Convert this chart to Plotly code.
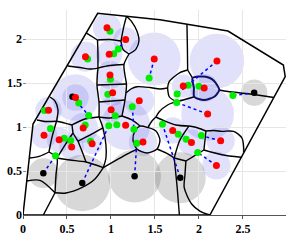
import plotly.graph_objects as go

# ---------------- data ----------------
red_x = [0.955, 1.167, 0.980, 0.710, 1.492, 2.205, 0.989, 1.019, 1.822, 2.060, 1.322, 0.597, 0.290,
         1.002, 2.099, 0.239, 0.411, 0.553, 0.684, 0.786, 1.167, 1.364, 1.702, 1.915, 2.247, 2.199]
red_y = [2.128, 1.994, 1.827, 1.799, 1.773, 1.750, 1.591, 1.390, 1.466, 1.443, 1.299, 1.335, 1.190,
         1.197, 1.148, 0.906, 0.855, 0.773, 0.989, 0.810, 1.020, 0.830, 0.960, 0.824, 0.843, 0.5625]
red_r = [0.16, 0.14, 0.15, 0.17, 0.30, 0.31, 0.16, 0.15, 0.13, 0.16, 0.17, 0.15, 0.15,
         0.14, 0.30, 0.15, 0.14, 0.14, 0.17, 0.12, 0.28, 0.16, 0.15, 0.15, 0.16, 0.16]
halo_idx = [11]
halo_r = [0.265]

green_x = [0.989, 1.083, 1.032, 0.735, 1.434, 0.994, 0.964, 1.242, 0.634, 0.747, 0.244, 1.049,
           1.878, 2.000, 1.752, 1.748, 2.386, 0.3125, 0.468, 0.542, 0.707, 0.769, 0.975, 1.066,
           1.261, 1.293, 0.369, 1.585, 1.765, 1.855, 2.028, 1.986]
green_y = [2.088, 1.886, 1.832, 1.773, 1.557, 1.543, 1.373, 1.231, 1.273, 1.131, 1.188, 1.128,
           1.474, 1.464, 1.375, 1.278, 1.358, 0.983, 0.873, 0.847, 1.023, 0.839, 1.014, 1.025,
           0.975, 0.816, 0.673, 1.032, 0.918, 0.861, 0.903, 0.710]

black_x = [0.5625, 2.628, 0.674, 1.269, 0.231, 1.7875]
black_y = [1.344, 1.390, 0.364, 0.441, 0.475, 0.424]
black_r = [0.0, 0.15, 0.32, 0.30, 0.17, 0.29]

# dotted links: (kind, index) -> (kind, index)
links = [(("r", 1), ("g", 1)), (("r", 4), ("g", 4)), (("r", 5), ("g", 14)),
         (("r", 14), ("g", 15)), (("b", 1), ("g", 16)), (("b", 0), ("g", 9)),
         (("g", 7), ("g", 24)), (("b", 2), ("g", 22)), (("b", 3), ("g", 25)),
         (("b", 4), ("g", 26)), (("b", 5), ("g", 27)), (("r", 24), ("g", 30)),
         (("r", 25), ("g", 31)), (("r", 15), ("g", 17)), (("r", 20), ("g", 23))]

poly_x = [0, 0.114, 0.849, 1.557, 2.330, 2.960, 2.981, 2.125, 0]
poly_y = [0, 1.034, 2.292, 2.218, 2.091, 1.705, 1.572, 0, 0]

cell_edges = [
    [(0.722, 2.068), (0.847, 1.989)],
    [(0.847, 1.989), (0.989, 1.994), (1.114, 1.977)],
    [(1.176, 2.258), (1.142, 2.125), (1.114, 1.977)],
    [(1.176, 2.258), (1.239, 2.193), (1.295, 2.091), (1.318, 1.977), (1.284, 1.886), (1.205, 1.830)],
    [(1.114, 1.977), (1.136, 1.886), (1.205, 1.830)],
    [(0.847, 1.989), (0.852, 1.841), (0.852, 1.670)],
    [(0.508, 1.693), (0.648, 1.676), (0.761, 1.659), (0.852, 1.670)],
    [(0.852, 1.670), (0.989, 1.699), (1.148, 1.710)],
    [(1.205, 1.830), (1.148, 1.710), (1.159, 1.591), (1.176, 1.489), (1.170, 1.386)],
    [(0.852, 1.670), (0.841, 1.477), (0.864, 1.284), (0.864, 1.114)],
    [(0.841, 1.477), (1.011, 1.483), (1.176, 1.489)],
    [(0.864, 1.284), (1.011, 1.295), (1.159, 1.307)],
    [(1.170, 1.386), (1.159, 1.307), (1.148, 1.239), (1.125, 1.125)],
    [(1.864, 2.168), (1.869, 1.898), (1.872, 1.648)],
    [(1.872, 1.648), (1.784, 1.619), (1.719, 1.572), (1.659, 1.511), (1.644, 1.443)],
    [(1.644, 1.443), (1.663, 1.344), (1.739, 1.288)],
    [(1.872, 1.648), (1.928, 1.557)],
    [(1.739, 1.288), (1.841, 1.313), (1.947, 1.344)],
    [(2.231, 1.420), (2.330, 1.403), (2.580, 1.375), (2.852, 1.335)],
    [(1.170, 1.386), (1.227, 1.432), (1.295, 1.458), (1.443, 1.449), (1.557, 1.432), (1.644, 1.443)],
    [(1.739, 1.288), (1.644, 1.250), (1.549, 1.174), (1.511, 1.114)],
    [(0.159, 1.080), (0.250, 1.063), (0.381, 1.065)],
    [(0.308, 1.341), (0.364, 1.295), (0.398, 1.193), (0.381, 1.065)],
    [(0.381, 1.065), (0.330, 0.886), (0.295, 0.716)],
    [(0.070, 0.648), (0.193, 0.670), (0.295, 0.716)],
    [(0.381, 1.065), (0.477, 1.045), (0.557, 1.023)],
    [(0.557, 1.023), (0.705, 1.091), (0.864, 1.114)],
    [(0.557, 1.023), (0.568, 0.932)],
    [(0.568, 0.932), (0.477, 0.795), (0.386, 0.648)],
    [(0.568, 0.932), (0.625, 0.841)],
    [(0.625, 0.841), (0.761, 0.909), (0.909, 0.989)],
    [(0.864, 1.114), (0.909, 0.989), (0.943, 0.795), (0.943, 0.648), (0.9125, 0.5375)],
    [(0.625, 0.841), (0.670, 0.727), (0.716, 0.602)],
    [(0.386, 0.648), (0.534, 0.625), (0.716, 0.602), (0.9125, 0.5375)],
    [(0.295, 0.716), (0.386, 0.648), (0.375, 0.455), (0.364, 0.253)],
    [(0.364, 0.253), (0.489, 0.250), (0.667, 0.310), (0.818, 0.409), (0.9125, 0.5375)],
    [(0.042, 0.386), (0.193, 0.394), (0.364, 0.253)],
    [(0.364, 0.253), (0.231, 0.0)],
    [(0.864, 1.114), (0.989, 1.102), (1.125, 1.125)],
    [(1.125, 1.125), (1.239, 1.080), (1.330, 1.011)],
    [(1.330, 1.011), (1.420, 0.994), (1.511, 0.955), (1.557, 0.852), (1.523, 0.750), (1.409, 0.705),
     (1.295, 0.750), (1.250, 0.852), (1.273, 0.955), (1.330, 1.011)],
    [(1.420, 0.994), (1.466, 1.068), (1.511, 1.114)],
    [(0.9125, 0.5375), (1.045, 0.614), (1.182, 0.693), (1.295, 0.750)],
    [(1.523, 0.750), (1.625, 0.705), (1.719, 0.648)],
    [(1.511, 1.114), (1.614, 1.068), (1.739, 1.023), (1.886, 1.011)],
    [(1.886, 1.011), (1.784, 0.852), (1.719, 0.648)],
    [(1.886, 1.011), (1.989, 0.989), (2.080, 0.955)],
    [(2.080, 0.955), (2.170, 0.960), (2.261, 0.951), (2.394, 0.951), (2.489, 0.875), (2.511, 0.716)],
    [(2.080, 0.955), (2.068, 0.841), (2.057, 0.739)],
    [(2.057, 0.739), (2.261, 0.685), (2.479, 0.656)],
    [(2.057, 0.739), (1.943, 0.670), (1.852, 0.614)],
    [(1.719, 0.648), (1.852, 0.614)],
    [(1.719, 0.648), (1.750, 0.341), (1.778, 0.0)],
    [(1.852, 0.614), (1.841, 0.455), (1.833, 0.310), (1.917, 0.125), (2.011, 0.045), (2.125, 0.0)],
]

highlight_cell = [(1.928, 1.557), (2.011, 1.574), (2.080, 1.572), (2.148, 1.545), (2.193, 1.497),
                  (2.231, 1.420), (2.205, 1.375), (2.174, 1.344), (2.060, 1.307), (1.947, 1.344),
                  (1.943, 1.443), (1.928, 1.557)]

x_ticks = [0, 0.5, 1, 1.5, 2, 2.5]
y_ticks = [0, 0.5, 1, 1.5, 2]

# ---------------- figure ----------------
fig = go.Figure()
shapes = []
for cx, cy, r in zip(black_x, black_y, black_r):
    if r > 0:
        shapes.append(dict(type="circle", xref="x", yref="y", x0=cx - r, x1=cx + r, y0=cy - r, y1=cy + r,
                           fillcolor="rgba(110,110,110,0.27)", line=dict(width=0), layer="below"))
for cx, cy, r in zip(red_x, red_y, red_r):
    shapes.append(dict(type="circle", xref="x", yref="y", x0=cx - r, x1=cx + r, y0=cy - r, y1=cy + r,
                       fillcolor="rgba(90,90,235,0.18)", line=dict(width=0), layer="below"))
for i, r in zip(halo_idx, halo_r):
    cx, cy = red_x[i], red_y[i]
    shapes.append(dict(type="circle", xref="x", yref="y", x0=cx - r, x1=cx + r, y0=cy - r, y1=cy + r,
                       fillcolor="rgba(90,90,235,0.18)", line=dict(width=0), layer="below"))

ex, ey = [], []
for seg in cell_edges:
    ex += [p[0] for p in seg] + [None]
    ey += [p[1] for p in seg] + [None]
fig.add_trace(go.Scatter(x=ex, y=ey, mode="lines", line=dict(color="black", width=1.4, shape="spline",
                                                               smoothing=0.8),
                         hoverinfo="skip", cliponaxis=False))
fig.add_trace(go.Scatter(x=[p[0] for p in highlight_cell], y=[p[1] for p in highlight_cell], mode="lines",
                         line=dict(color="#101060", width=2, shape="spline", smoothing=0.8), hoverinfo="skip"))
fig.add_trace(go.Scatter(x=poly_x, y=poly_y, mode="lines", line=dict(color="black", width=1.5),
                         hoverinfo="skip", cliponaxis=False))

pts = {"r": (red_x, red_y), "g": (green_x, green_y), "b": (black_x, black_y)}
lx, ly = [], []
for a, b in links:
    xa, ya = pts[a[0]][0][a[1]], pts[a[0]][1][a[1]]
    xb, yb = pts[b[0]][0][b[1]], pts[b[0]][1][b[1]]
    lx += [xa, xb, None]
    ly += [ya, yb, None]
fig.add_trace(go.Scatter(x=lx, y=ly, mode="lines", line=dict(color="#0000ff", width=1.5, dash="dot"),
                         hoverinfo="skip"))

fig.add_trace(go.Scatter(x=black_x, y=black_y, mode="markers", marker=dict(color="black", size=6.5),
                         hoverinfo="skip"))
fig.add_trace(go.Scatter(x=green_x, y=green_y, mode="markers", marker=dict(color="#00ee00", size=7),
                         hoverinfo="skip"))
fig.add_trace(go.Scatter(x=red_x, y=red_y, mode="markers", marker=dict(color="#ff0000", size=7),
                         hoverinfo="skip"))

tick_font = dict(family="Liberation Serif", size=12, color="black", weight="bold")
fig.update_layout(
    width=291, height=242, margin=dict(l=23, r=5, t=10, b=27),
    paper_bgcolor="white", plot_bgcolor="white", showlegend=False, shapes=shapes,
    xaxis=dict(range=[0, 2.99], tickvals=x_ticks, showgrid=True, gridcolor="#e6e6e6", zeroline=False,
               showline=True, linecolor="#555", linewidth=1, ticks="outside", ticklen=3,
               tickcolor="#555", tickfont=tick_font),
    yaxis=dict(range=[0, 2.33], tickvals=y_ticks, showgrid=True, gridcolor="#e6e6e6", zeroline=False,
               showline=False, ticks="inside", ticklen=3, tickcolor="#888", tickfont=tick_font),
)
fig.write_html("out.html", config={"displayModeBar": False},
               post_script="document.body.style.margin='0px';document.body.style.overflow='hidden';")
